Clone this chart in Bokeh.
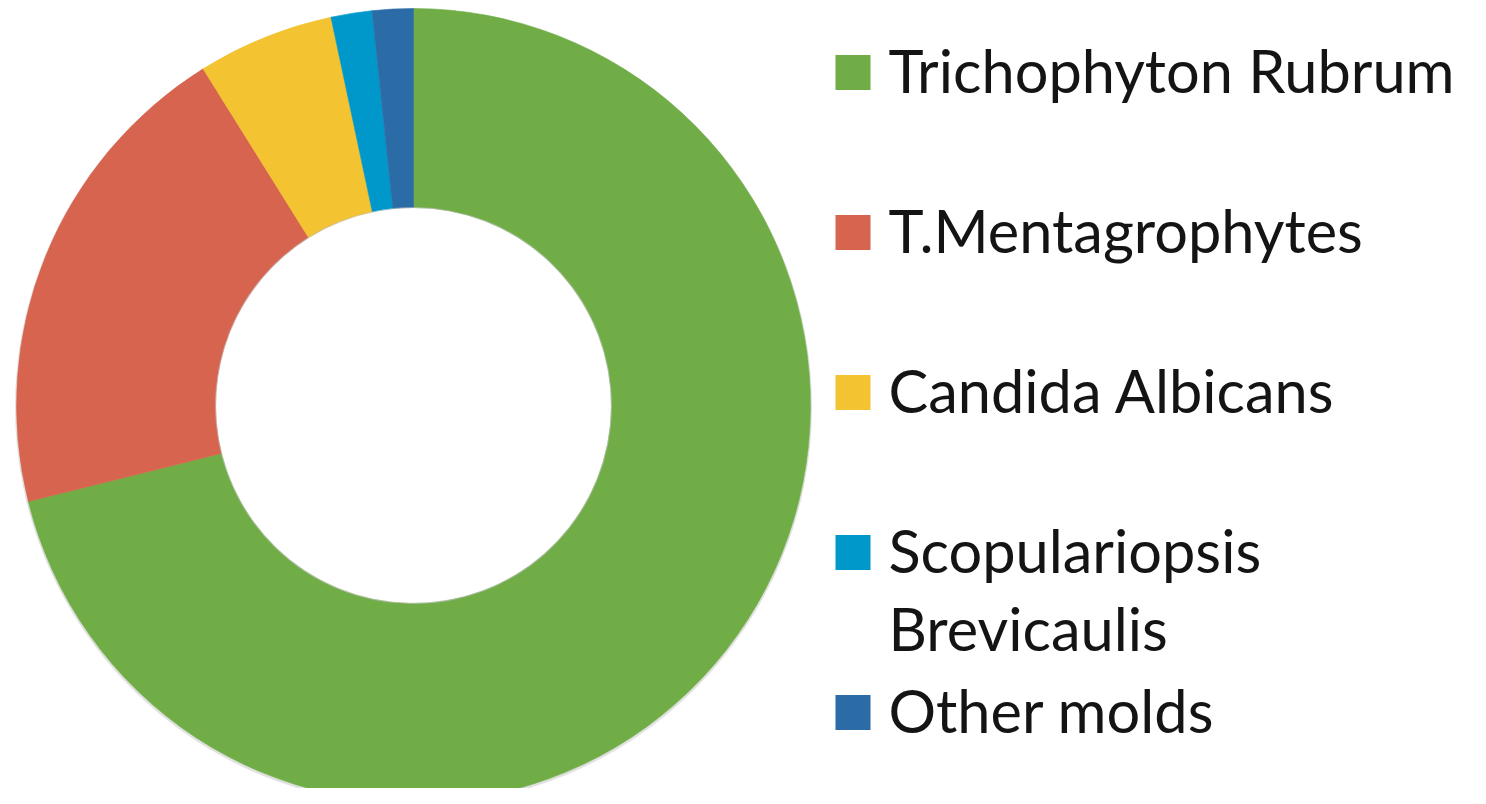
import numpy as np
from bokeh.plotting import figure
from bokeh.models import Range1d
from bokeh.core.properties import value
from bokeh.embed import file_html
from bokeh.resources import INLINE

# ---- data ----
labels = ["Trichophyton Rubrum", "T.Mentagrophytes", "Candida Albicans",
          "Scopulariopsis Brevicaulis", "Other molds"]
legend_lines = [["Trichophyton Rubrum"], ["T.Mentagrophytes"], ["Candida Albicans"],
                ["Scopulariopsis", "Brevicaulis"], ["Other molds"]]
counts = [128, 36, 10, 3, 3]
colors = ["#70AD47", "#D6644E", "#F4C331", "#0098CB", "#2B6BA6"]

# ---- layout (reference pixel coordinates, y downward) ----
W, H = 1470, 788


def py(y):
    return -y


cx, cy = 413, py(405)
r_out, r_in = 397, 198

frac = np.array(counts, dtype=float) / sum(counts)
cum = np.concatenate([[0.0], np.cumsum(frac)])
start = np.pi / 2 - cum[:-1] * 2 * np.pi
end = np.pi / 2 - cum[1:] * 2 * np.pi

p = figure(width=W, height=H, x_range=Range1d(0, W), y_range=Range1d(py(H), py(0)),
           output_backend="svg", toolbar_location=None, min_border=0,
           outline_line_color=None, background_fill_color="white")
p.axis.visible = False
p.grid.visible = False

# soft shadow
p.circle(x=[cx], y=[cy - 1.5], radius=r_out + 1.5, fill_color="#888888", fill_alpha=0.25,
         line_color=None)
p.circle(x=[cx], y=[cy], radius=r_out, fill_color="white", line_color=None)

p.annular_wedge(x=cx, y=cy, inner_radius=r_in, outer_radius=r_out,
                start_angle=start, end_angle=end, direction="clock",
                fill_color=colors, line_color=colors, line_width=0.6)

# inner edge subtle shadow
p.circle(x=[cx], y=[cy], radius=r_in, fill_color=None, line_color="#bbbbbb",
         line_alpha=0.5, line_width=1.2)

# ---- legend ----
sq_x = 852.5
sq_size = 35
centers = [72, 232, 392, 552, 712]
text_x = 888
line_gap = 78
for i, (lines, c) in enumerate(zip(legend_lines, colors)):
    yc = centers[i]
    p.rect(x=[sq_x], y=[py(yc)], width=sq_size, height=sq_size, fill_color=c, line_color=None)
    for j, t in enumerate(lines):
        p.text(x=[text_x], y=[py(yc - 3 + j * line_gap)], text=[t],
               text_font=value("Lato"), text_font_size="59.5px", text_color="#141414",
               text_baseline="middle", text_align="left")

open("out.html", "w").write(file_html(p, INLINE))
